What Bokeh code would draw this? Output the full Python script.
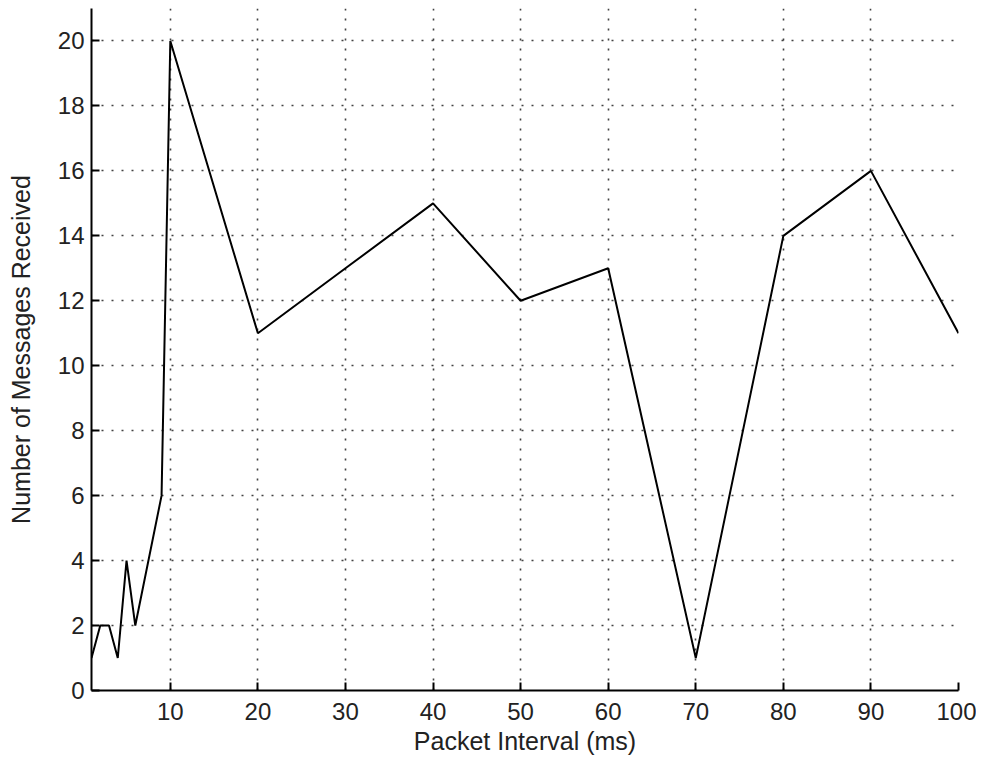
from bokeh.plotting import figure
from bokeh.models import FixedTicker, Range1d
from bokeh.embed import file_html
from bokeh.resources import INLINE

# Data
packet_interval = [1, 2, 3, 4, 5, 6, 9, 10, 20, 30, 40, 50, 60, 70, 80, 90, 100]
messages_received = [1, 2, 2, 1, 4, 2, 6, 20, 11, 13, 15, 12, 13, 1, 14, 16, 11]

x_ticks = [10, 20, 30, 40, 50, 60, 70, 80, 90, 100]
y_ticks = [0, 2, 4, 6, 8, 10, 12, 14, 16, 18, 20]

FONT = "Liberation Sans"

p = figure(width=976, height=765, output_backend="svg", toolbar_location=None,
           x_range=Range1d(1, 100), y_range=Range1d(0, 21),
           min_border_left=91, min_border_right=18, min_border_top=8,
           min_border_bottom=75)

p.line(packet_interval, messages_received, line_color="black", line_width=2)

p.outline_line_color = None
p.background_fill_color = "white"
p.border_fill_color = "white"

for ax, ticks in ((p.xaxis[0], x_ticks), (p.yaxis[0], y_ticks)):
    ax.ticker = FixedTicker(ticks=ticks)
    ax.axis_line_color = "black"
    ax.axis_line_width = 2
    ax.major_tick_in = 8
    ax.major_tick_out = 0
    ax.major_tick_line_color = "black"
    ax.major_tick_line_width = 2
    ax.minor_tick_line_color = None
    ax.major_label_text_font = FONT
    ax.major_label_text_font_size = "24px"
    ax.major_label_text_color = "#222222"
    ax.axis_label_text_font = FONT
    ax.axis_label_text_font_size = "25px"
    ax.axis_label_text_font_style = "normal"
    ax.axis_label_text_color = "#222222"

p.xaxis.axis_label = "Packet Interval (ms)"
p.yaxis.axis_label = "Number of Messages Received"
p.xaxis.major_label_standoff = 12
p.xaxis.axis_label_standoff = 4
p.yaxis.major_label_standoff = 7
p.yaxis.axis_label_standoff = 20

for g, ticks in ((p.xgrid[0], x_ticks), (p.ygrid[0], y_ticks)):
    g.ticker = FixedTicker(ticks=ticks)
    g.grid_line_color = "#222222"
    g.grid_line_width = 1.6
    g.grid_line_dash = "2 8"
    g.grid_line_alpha = 0.85

open("out.html", "w").write(file_html(p, INLINE))
